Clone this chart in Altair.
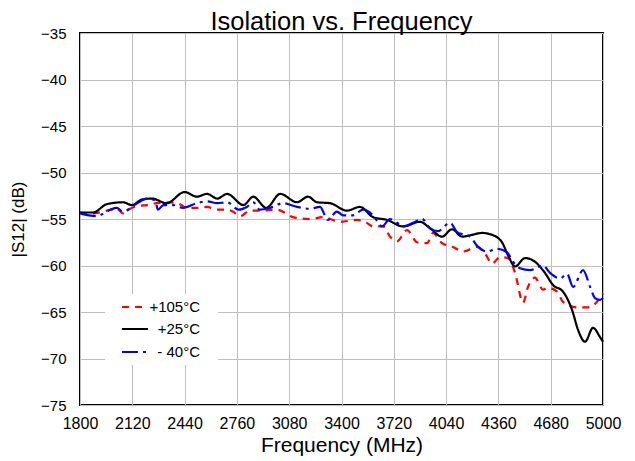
import altair as alt
import pandas as pd

series_names = ["+105°C", "+25°C", "- 40°C"]
series_colors = ["#ff0000", "#000000", "#0000ff"]
series_dash = [[7, 6], [1, 0], [16, 5, 3, 5]]

f_red = [1800, 1880, 1965, 2025, 2063, 2106, 2155, 2210, 2270, 2330, 2395, 2455, 2515, 2577, 2640, 2700, 2735, 2780, 2840, 2900, 3005, 3103, 3207, 3287, 3391, 3495, 3544, 3593, 3655, 3697, 3740, 3801, 3862, 3924, 3960, 4015, 4082, 4144, 4229, 4278, 4321, 4370, 4419, 4462, 4511, 4541, 4584, 4633, 4664, 4719, 4755, 4841, 4903, 4939, 5000]
v_red = [-54.3, -54.4, -54.1, -53.9, -54.4, -53.9, -53.6, -53.5, -53.3, -53.2, -53.3, -53.8, -53.8, -53.7, -54.0, -54.0, -54.2, -54.7, -54.1, -54.1, -54.0, -54.8, -55.0, -54.8, -55.3, -55.1, -55.3, -55.8, -55.8, -56.9, -57.4, -56.2, -57.5, -57.6, -56.5, -57.6, -58.0, -58.5, -58.0, -58.7, -59.8, -59.1, -59.2, -60.8, -64.0, -62.3, -61.3, -62.6, -62.4, -62.8, -63.9, -64.5, -64.5, -64.3, -63.0]

f_black = [1800, 1880, 1965, 2063, 2118, 2180, 2240, 2330, 2440, 2515, 2577, 2640, 2700, 2800, 2860, 2940, 3025, 3128, 3195, 3250, 3330, 3433, 3513, 3593, 3679, 3777, 3880, 3942, 4015, 4076, 4138, 4199, 4260, 4321, 4382, 4419, 4462, 4523, 4584, 4645, 4694, 4755, 4811, 4847, 4890, 4939, 4982, 5000]
v_black = [-54.3, -54.3, -53.4, -53.2, -53.5, -52.9, -52.8, -53.3, -52.1, -52.6, -52.3, -52.8, -52.3, -53.5, -52.6, -53.8, -52.3, -53.2, -52.6, -53.2, -53.3, -54.1, -53.7, -54.8, -55.1, -55.8, -55.3, -56.0, -56.9, -56.1, -56.9, -56.7, -56.5, -56.7, -57.5, -58.9, -60.1, -59.2, -59.6, -60.8, -62.1, -62.8, -64.8, -66.9, -68.2, -66.7, -67.7, -68.2]

f_blue = [1800, 1900, 1985, 2025, 2063, 2150, 2210, 2260, 2277, 2310, 2370, 2430, 2515, 2577, 2640, 2700, 2770, 2820, 2860, 2900, 2963, 3042, 3128, 3207, 3268, 3317, 3372, 3409, 3470, 3532, 3593, 3648, 3697, 3740, 3777, 3838, 3893, 3942, 3990, 4064, 4107, 4186, 4236, 4290, 4352, 4413, 4450, 4492, 4554, 4633, 4676, 4737, 4780, 4817, 4878, 4921, 4951, 4982, 5000]
v_blue = [-54.4, -54.7, -54.0, -53.8, -54.2, -53.3, -52.8, -53.0, -54.0, -53.5, -53.5, -53.8, -53.3, -53.1, -53.3, -53.2, -54.0, -53.7, -53.2, -54.0, -53.8, -53.3, -53.7, -53.9, -53.7, -55.1, -54.2, -54.6, -54.6, -54.0, -54.6, -55.8, -55.0, -55.4, -55.8, -55.4, -55.0, -56.0, -56.3, -55.4, -56.4, -56.9, -58.0, -58.5, -58.2, -58.6, -59.6, -60.3, -60.5, -60.0, -60.8, -61.4, -60.9, -62.3, -60.5, -62.3, -63.5, -63.7, -63.5]

x_ticks = [1800, 2120, 2440, 2760, 3080, 3400, 3720, 4040, 4360, 4680, 5000]
y_ticks = [-35, -40, -45, -50, -55, -60, -65, -70, -75]

rows = []
for name, fs, vs in [(series_names[0], f_red, v_red), (series_names[1], f_black, v_black), (series_names[2], f_blue, v_blue)]:
    for i, (f, v) in enumerate(zip(fs, vs)):
        rows.append({"Series": name, "Frequency": f, "S12": v, "order": i})
df = pd.DataFrame(rows)

FONT = "Liberation Sans"

lines = alt.Chart(df).mark_line(strokeWidth=2.2, interpolate="monotone").encode(
    x=alt.X("Frequency:Q", scale=alt.Scale(domain=[1800, 5000], nice=False, zero=False),
            axis=alt.Axis(values=x_ticks, title="Frequency (MHz)", format="d", labelFlush=False,
                          labelFontSize=16, titleFontSize=21)),
    y=alt.Y("S12:Q", scale=alt.Scale(domain=[-75, -35], nice=False, zero=False),
            axis=alt.Axis(values=y_ticks, title="|S12| (dB)", labelFontSize=15, titleFontSize=17)),
    color=alt.Color("Series:N", scale=alt.Scale(domain=series_names, range=series_colors), legend=None),
    strokeDash=alt.StrokeDash("Series:N", scale=alt.Scale(domain=series_names, range=series_dash), legend=None),
    detail="Series:N",
    order="order:Q",
)

# manual legend box (inside plot, bottom-left) with white background
box_df = pd.DataFrame({"k": [0]})
legend_box = alt.Chart(box_df).mark_rect(color="#ffffff").encode(
    x=alt.value(25), x2=alt.value(138), y=alt.value(261), y2=alt.value(332))

legend_layers = []
legend_rows_y = [274, 296, 319]
for name, col, dash, yy in zip(series_names, series_colors, series_dash, legend_rows_y):
    ldf = pd.DataFrame({"Series": [name]})
    legend_layers.append(
        alt.Chart(ldf).mark_rule(color=col, strokeDash=dash, strokeWidth=2.2).encode(
            x=alt.value(42), x2=alt.value(68), y=alt.value(yy))
    )
    legend_layers.append(
        alt.Chart(ldf).mark_text(align="right", baseline="middle", font=FONT, fontSize=15, color="#000000").encode(
            x=alt.value(120), y=alt.value(yy), text="Series:N")
    )

chart = alt.layer(legend_box, lines, *legend_layers).properties(
    width=523, height=372,
    title=alt.Title("Isolation vs. Frequency", font=FONT, fontSize=25.5, fontWeight="normal", color="#000000", offset=4, dy=13),
    autosize=alt.AutoSizeParams(type="none"),
    padding={"left": 72, "top": 25, "right": 20, "bottom": 56},
).configure_view(
    stroke="#000000", strokeWidth=2
).configure_axis(
    grid=True, gridColor="#bfbfbf", gridWidth=1, domain=False, ticks=False,
    labelFont=FONT, labelColor="#000000",
    titleFont=FONT, titleFontWeight="normal", titleColor="#000000",
).configure_axisX(labelPadding=10, titlePadding=3).configure_axisY(labelPadding=14, titlePadding=13)

chart.save("out.html", embed_options={"renderer": "svg", "actions": False})
